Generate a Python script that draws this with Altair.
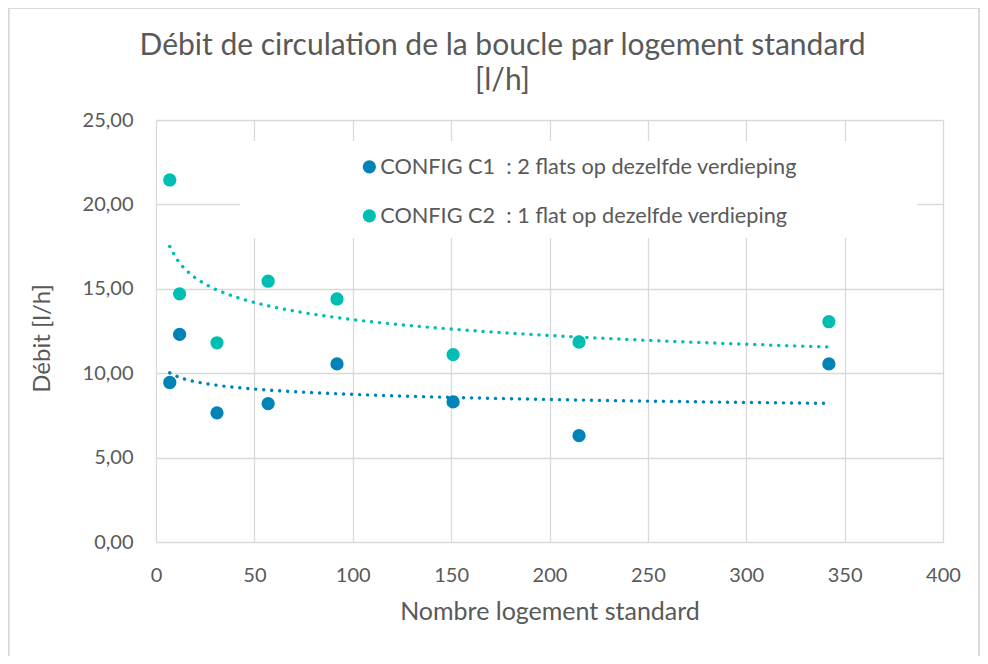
import altair as alt
import pandas as pd

# ---- data ----
logements = [7, 12, 31, 57, 92, 151, 215, 342]
debit_c1 = [9.45, 12.30, 7.65, 8.20, 10.55, 8.30, 6.30, 10.55]
debit_c2 = [21.45, 14.70, 11.80, 15.45, 14.40, 11.10, 11.85, 13.05]
series_names = [
    "CONFIG C1\u00a0\u00a0: 2 flats op dezelfde verdieping",
    "CONFIG C2\u00a0\u00a0: 1 flat op dezelfde verdieping",
]
colors = ["#0083B7", "#00BFB2"]
x_ticks = [0, 50, 100, 150, 200, 250, 300, 350, 400]
y_ticks = [0, 5, 10, 15, 20, 25]

rows = []
for name, vals in zip(series_names, [debit_c1, debit_c2]):
    for n, d in zip(logements, vals):
        rows.append({"n": n, "debit": d, "series": name})
df = pd.DataFrame(rows)

FONT = "Lato"
TXT = "#595959"
GRID = "#D9D9D9"
W, H = 787, 422

xscale = alt.Scale(domain=[0, 400], nice=False)
yscale = alt.Scale(domain=[0, 25], nice=False)

xaxis = alt.Axis(values=x_ticks, title="Nombre logement standard", labelPadding=23,
                 labelFlush=False, titlePadding=14, titleFontSize=25)
yaxis = alt.Axis(values=y_ticks, title="Débit [l/h]", labelPadding=23,
                 labelExpr="replace(format(datum.value, '.2f'), '.', ',')",
                 titleX=-114, titleY=218, titleAlign="center", titleBaseline="middle",
                 titleAngle=-90, titleFontSize=24)

base = alt.Chart(df)

frame = base.mark_rect(fill=None, stroke=GRID, strokeWidth=1.2).encode(
    x=alt.value(-147.5), x2=alt.value(823.5), y=alt.value(-111.5), y2=alt.value(560)
)

legend_box = base.mark_rect(fill="white", stroke=None).encode(
    x=alt.value(84.5), x2=alt.value(760.5), y=alt.value(21), y2=alt.value(118)
)

trend = base.transform_regression(
    "n", "debit", method="pow", groupby=["series"]
).mark_line(strokeWidth=3.4, strokeDash=[0.1, 7.9], strokeCap="round").encode(
    x=alt.X("n:Q", scale=xscale, axis=xaxis),
    y=alt.Y("debit:Q", scale=yscale, axis=yaxis),
    color=alt.Color("series:N", scale=alt.Scale(domain=series_names, range=colors), legend=None),
)

points = base.mark_point(filled=True, size=177, opacity=1).encode(
    x=alt.X("n:Q", scale=xscale, axis=xaxis),
    y=alt.Y("debit:Q", scale=yscale, axis=yaxis),
    color=alt.Color(
        "series:N",
        scale=alt.Scale(domain=series_names, range=colors),
        legend=alt.Legend(
            title=None, orient="none", legendX=202.5, legendY=36,
            symbolType="circle", symbolSize=177, symbolStrokeWidth=0,
            labelFont=FONT, labelFontSize=21.7, labelColor=TXT, labelOffset=0,
            rowPadding=26, padding=0, labelLimit=600,
        ),
    ),
)

chart = alt.layer(frame, legend_box, trend, points).resolve_scale(color="independent").properties(
    width=W, height=H,
    background="white",
    autosize=alt.AutoSizeParams(type="none"),
    padding={"left": 148, "top": 112, "right": 37, "bottom": 114},
    title=alt.TitleParams(
        text=["Débit de circulation de la boucle par logement standard", "[l/h]"],
        font=FONT, fontSize=30, fontWeight="normal", color=TXT,
        anchor="middle", dx=-47, offset=-88, lineHeight=35,
    ),
).configure_view(stroke=None).configure_axis(
    domain=False, ticks=False, grid=True, gridColor=GRID, gridWidth=1.3,
    labelFont=FONT, labelFontSize=20, labelColor=TXT,
    titleFont=FONT, titleColor=TXT, titleFontWeight="normal",
)

chart.save("out.html", embed_options={"renderer": "svg", "actions": False})
